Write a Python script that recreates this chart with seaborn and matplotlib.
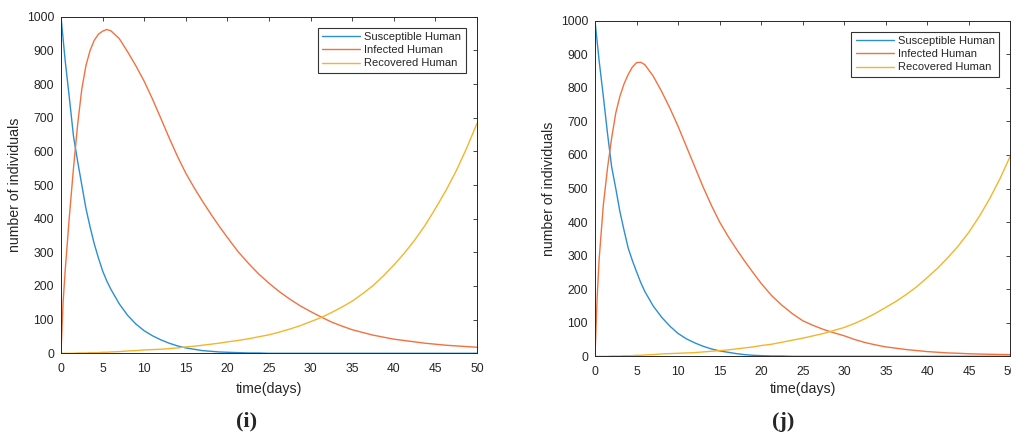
import matplotlib
matplotlib.use("Agg")
import matplotlib.pyplot as plt
import seaborn as sns
import pandas as pd

# Sample times (days) shared by every series
t = [0, 0.25, 0.5, 1, 1.5, 2, 2.5, 3, 3.5, 4,
     4.5, 5, 5.5, 6, 7, 8, 9, 10, 11, 12,
     13, 14, 15, 16, 17, 18, 19, 20,
     21.25, 22.5, 23.75, 25, 26.25, 27.5, 28.75, 30,
     31.25, 32.5, 33.75, 35, 36.25, 37.5, 38.75, 40,
     41.25, 42.5, 43.75, 45, 46.25, 47.5, 48.75, 50]

# Panel (i)
sus_i = [1000, 935, 870, 760, 645, 570, 500, 430, 375, 325,
         283, 245, 215, 190, 147, 113, 87, 67, 52, 40,
         30, 22, 16, 12, 8, 6, 4, 3,
         2, 1, 1, 0, 0, 0, 0, 0,
         0, 0, 0, 0, 0, 0, 0, 0,
         0, 0, 0, 0, 0, 0, 0, 0]
inf_i = [0, 150, 245, 405, 550, 680, 785, 855, 900, 930,
         948, 957, 962, 958, 935, 896, 854, 808, 755, 698,
         640, 585, 535, 492, 452, 414, 378, 344,
         303, 268, 236, 208, 183, 161, 141, 124,
         108, 93, 81, 70, 62, 54, 48, 42,
         38, 34, 30, 27, 24, 22, 20, 18]
rec_i = [0, 0, 0, 0, 0, 1, 1, 1, 2, 2,
         2, 3, 3, 4, 5, 7, 8, 10, 11, 12,
         14, 16, 19, 21, 24, 27, 30, 34,
         38, 43, 49, 55, 63, 72, 82, 94,
         106, 121, 137, 155, 177, 201, 230, 262,
         297, 336, 380, 430, 483, 542, 609, 683]

# Panel (j)
sus_j = [1000, 940, 880, 775, 665, 565, 500, 431, 375, 322,
         285, 252, 220, 193, 150, 117, 90, 68, 52, 40,
         30, 22, 16, 12, 8, 5, 3, 2,
         1, 1, 0, 0, 0, 0, 0, 0,
         0, 0, 0, 0, 0, 0, 0, 0,
         0, 0, 0, 0, 0, 0, 0, 0]
inf_j = [0, 170, 290, 450, 560, 650, 725, 775, 812, 840,
         862, 875, 876, 869, 835, 790, 740, 685, 625, 565,
         505, 450, 400, 358, 320, 284, 250, 217,
         181, 152, 127, 106, 92, 80, 70, 61,
         50, 41, 34, 28, 24, 20, 17, 14,
         12, 10, 9, 7.5, 6.7, 6, 5.5, 5]
rec_j = [0, 0, 0, 0, 0, 1, 1, 1, 2, 2,
         2, 3, 3, 4, 5, 7, 8, 9, 10, 11,
         13, 15, 17, 19, 22, 25, 28, 32,
         36, 42, 48, 54, 61, 68, 77, 86,
         98, 112, 128, 146, 164, 185, 208, 235,
         263, 295, 330, 370, 417, 470, 530, 598]

series_names = ["Susceptible Human", "Infected Human", "Recovered Human"]
x_ticks = list(range(0, 51, 5))
y_ticks = list(range(0, 1001, 100))
panel_tags = ["(i)", "(j)"]

sns.set_style("white")
plt.rcParams["font.family"] = ["Liberation Sans", "DejaVu Sans"]

colors = ["#2a8fd3", "#f3713f", "#f5b52a"]
ink = "#262626"

fig = plt.figure(figsize=(10.11, 4.34), dpi=100)
W, H = 1011.0, 434.0

# axes boxes in pixels: left, right, top, bottom
boxes = [(61, 477, 16.7, 353.3), (595, 1010.5, 20.7, 356.3)]
panels = [(sus_i, inf_i, rec_i), (sus_j, inf_j, rec_j)]
tag_x = [247, 783]

for (l, r, tp, bt), data, tag, tx in zip(boxes, panels, panel_tags, tag_x):
    ax = fig.add_axes([l / W, 1 - bt / H, (r - l) / W, (bt - tp) / H])
    for vals, name, c in zip(data, series_names, colors):
        df = pd.DataFrame({"t": t, "n": vals})
        sns.lineplot(data=df, x="t", y="n", ax=ax, color=c, linewidth=1.0,
                     label=name)
    ax.set_xlim(0, 50)
    ax.set_ylim(0, 1000)
    ax.set_xticks(x_ticks)
    ax.set_yticks(y_ticks)
    ax.tick_params(direction="in", top=True, right=True, length=3,
                   width=0.6, colors=ink, labelsize=8.7)
    ax.tick_params(axis="x", pad=7)
    ax.tick_params(axis="y", pad=5)
    for s in ax.spines.values():
        s.set_color(ink)
        s.set_linewidth(0.7)
    ax.set_xlabel("time(days)", fontsize=10.2, color=ink)
    ax.set_ylabel("number of individuals", fontsize=10.2, color=ink)
    hgt = bt - tp
    ax.xaxis.set_label_coords(0.5, (bt - 389) / hgt)
    ax.xaxis.label.set_va("center")
    ax.yaxis.set_label_coords(-46 / (r - l), 0.5)
    ax.yaxis.label.set_va("center")
    leg = ax.legend(loc="upper right", fontsize=8, frameon=True, fancybox=False,
                    handlelength=3.4, handletextpad=0.4, labelspacing=0.28,
                    borderpad=0.4, borderaxespad=1.0)
    leg.get_frame().set_edgecolor("black")
    leg.get_frame().set_linewidth(0.8)
    for txt in leg.get_texts():
        txt.set_color(ink)
    fig.text(tx / W, 1 - 421.7 / H, tag, ha="center", va="center",
             fontsize=16, fontweight="bold", family="Liberation Serif")

fig.savefig("out.png", dpi=100)
